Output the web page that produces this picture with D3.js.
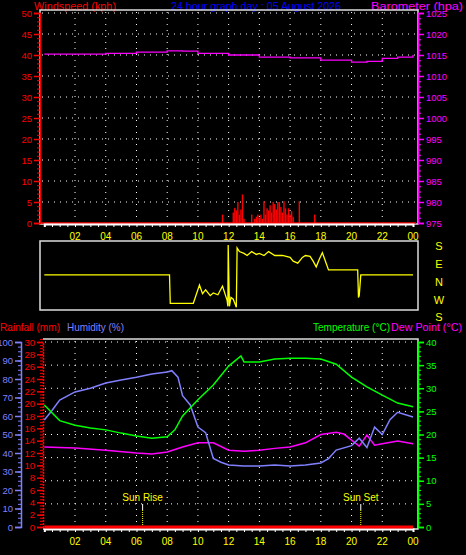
<!DOCTYPE html>
<html><head><meta charset="utf-8">
<script src="https://cdn.jsdelivr.net/npm/d3@7"></script>
<style>body{margin:0;background:#000}svg{display:block}text{font-family:"Liberation Sans",Arial,sans-serif}</style>
</head><body><svg id="c" width="466" height="555"></svg>
<script>
const title = "24 hour graph day : 05 August 2026";
const hourTicks = [2,4,6,8,10,12,14,16,18,20,22,24];
const hourLabels = ["02","04","06","08","10","12","14","16","18","20","22","00"];
const dirLabels = ["S","E","N","W","S"];

const baroHours = [0,2,4,6,8,9,10,12,14,16,18,20,21,22,23,24];
const baroVals  = [1015.2,1015.2,1015.4,1015.7,1016,1015.9,1015.4,1015,1014.5,1014.3,1013.8,1013.3,1013.5,1014.2,1014.5,1015];

const windHours = [11.6,12.3,12.4,12.5,12.6,12.7,12.8,12.9,13.0,13.5,13.7,13.8,13.9,14.0,14.1,14.2,14.3,14.4,14.5,14.6,14.7,14.8,14.9,15.0,15.1,15.2,15.3,15.4,15.5,15.6,15.7,15.8,15.9,16.0,16.1,16.2,16.6,17.6];
const windVals  = [2.0,2.5,3.6,3.0,5.0,2.0,3.2,6.8,1.0,2.0,1.0,1.5,2.0,1.2,2.0,1.0,5.2,2.0,3.5,3.0,4.2,2.5,5.0,4.5,3.2,5.0,5.0,3.8,2.5,5.2,3.5,2.0,3.5,2.0,2.8,1.5,5.2,2.0];

const dirHours = [0,8.15,8.2,9.7,10.1,10.3,10.5,10.8,11,11.3,11.6,11.9,11.95,11.97,12.05,12.15,12.3,12.5,12.55,12.7,13,13.2,13.5,13.8,14,14.3,14.6,15,15.5,16,16.2,16.5,16.8,17,17.3,17.5,17.7,17.9,18.1,18.3,18.5,20.4,20.45,20.5,20.6,24];
const dirVals  = [12,12,-148,-148,-45,-94,-72,-105,-90,-100,-51,-131,-165,180,-165,-115,-125,-170,163,143,133,121,143,127,133,121,143,121,121,110,89,78,110,121,116,89,57,100,137,89,40,40,-115,-105,12,12];

const tHours = [0,1,2,3,4,5,6,7,8,8.5,9,10,11,12,12.8,13,14,15,16,17,18,19,20,21,22,23,24];
const tempVals = [26.4,23,22,21.4,21,20.3,19.7,19.2,19.5,21,24,27.5,30.7,34.8,37,35.7,35.7,36.3,36.5,36.5,36.3,35.2,32.4,30.3,28.5,26.8,26];
const humHours = [0,0.5,1,2,3,4,5,6,7,8,8.3,8.7,9,9.5,10,10.5,11,11.5,12,13,14,15,16,17,18,18.5,19,20,20.5,21,21.5,22,22.5,23,24];
const humVals  = [57.8,63,68.6,73,75,77.8,79.5,81,82.7,83.8,84.5,81,71,66,54,51,37,35,33.5,33,33,33.5,33,33.5,34.6,37,41.6,44,48,43,54,50,58,62,59.5];
const dewHours = [0,2,4,6,7,8,9,10,11,12,13,14,15,16,17,18,19,19.5,20,20.5,21,21.5,22,23,24];
const dewVals  = [17.3,17.1,16.6,16,15.8,16.2,17.3,18.2,18.2,16.6,16.4,16.6,17,17.3,18.2,20,20.5,20.1,18.8,17.5,19.9,17.7,18,18.6,18];
const rainHours = [0,24];
const rainVals = [0,0];
const sunRise = 6.4, sunSet = 20.6;

const svg = d3.select("#c");
const x = d3.scaleLinear().domain([0,24]).range([44.3,413]);

function txt(s,xx,yy,col,anchor,size,len){const t=svg.append("text").attr("x",xx).attr("y",yy).attr("fill",col).attr("font-size",size||11).attr("text-anchor",anchor||"start").text(s); if(len) t.attr("textLength",len).attr("lengthAdjust","spacingAndGlyphs"); return t;}
function dotsH(y,x1,x2){svg.append("line").attr("x1",x1).attr("x2",x2).attr("y1",y).attr("y2",y).attr("stroke","#fff").attr("stroke-dasharray","1,5");}
function dotsV(xx,y1,y2){svg.append("line").attr("x1",xx).attr("x2",xx).attr("y1",y1).attr("y2",y2).attr("stroke","#fff").attr("stroke-dasharray","1,5");}
function xAxis(y){
  const g = svg.append("g").attr("transform",`translate(0,${y})`).call(d3.axisBottom(x).tickValues(d3.range(0,24.01,0.5)).tickSize(3).tickFormat(""));
  g.selectAll("path,line").attr("stroke","#fff");
  g.select("path").attr("stroke-width",2);
  hourTicks.forEach((h,i)=>txt(hourLabels[i],x(h),y+16,"#ffff00","middle",10));
}
function vAxis(scale,xx,orient,col,ticks,minor,dashed){
  const maker = orient==="left"?d3.axisLeft:d3.axisRight;
  const gm = svg.append("g").attr("transform",`translate(${xx},0)`).call(maker(scale).tickValues(minor).tickSize(3).tickFormat(""));
  gm.selectAll("path,line").attr("stroke",col);
  const g = svg.append("g").attr("transform",`translate(${xx},0)`).call(maker(scale).tickValues(ticks).tickSize(6).tickPadding(2).tickFormat(d3.format("d")));
  g.selectAll("path,line").attr("stroke",col).attr("stroke-width",1.5);
  if(dashed){g.select("path").attr("stroke-dasharray","2,1");gm.select("path").attr("stroke-dasharray","2,1");}
  g.selectAll("text").attr("fill",col).attr("font-size",9.5).attr("font-family","Liberation Sans, Arial");
}

// header
txt("Windspeed (kph)",34,10,"#ff0000","start",11,82);
txt(title,171,10,"#0000ff","start",11,170);
txt("Barometer (hpa)",371,10,"#ff00ff","start",11,92);

// top panel
const yW = d3.scaleLinear().domain([0,50]).range([223,13]);
const yB = d3.scaleLinear().domain([975,1025]).range([223,13]);
d3.range(5,51,5).forEach(v=>dotsH(yW(v),42,416));
hourTicks.slice(0,11).forEach(h=>dotsV(x(h),12,222));
svg.append("rect").attr("x",40).attr("y",10).attr("width",378).attr("height",214).attr("fill","none").attr("stroke","#ddd").attr("stroke-width",1.5);
svg.append("g").selectAll("rect").data(windHours).join("rect")
  .attr("x",d=>x(d)-0.7).attr("width",1.4)
  .attr("y",(d,i)=>yW(windVals[i])).attr("height",(d,i)=>yW(0)-yW(windVals[i])).attr("fill","#ff0000");
svg.append("line").attr("x1",x(0)-3).attr("x2",x(24)+3).attr("y1",yW(0)).attr("y2",yW(0)).attr("stroke","#ff0000").attr("stroke-width",1.5);
svg.append("path").datum(baroHours).attr("fill","none").attr("stroke","#ff00ff").attr("stroke-width",1.3)
  .attr("d",d3.line().x(d=>x(d)).y((d,i)=>yB(baroVals[i])).curve(d3.curveStepAfter));
vAxis(yW,40,"left","#ff0000",d3.range(0,51,5),d3.range(0,51,1));
vAxis(yB,418,"right","#ff00ff",d3.range(975,1026,5),d3.range(975,1026,1.25));
xAxis(224);

// wind direction panel
const yD = d3.scaleLinear().domain([-180,180]).range([309,245]);
svg.append("rect").attr("x",40).attr("y",241).attr("width",378).attr("height",69).attr("fill","none").attr("stroke","#ddd").attr("stroke-width",1.5);
svg.append("path").datum(dirHours).attr("fill","none").attr("stroke","#ffff00").attr("stroke-width",1.3)
  .attr("d",d3.line().x(d=>x(d)).y((d,i)=>yD(dirVals[i])));
dirLabels.forEach((l,i)=>txt(l,439,[250,268,286,304,321][i],"#ffff00","middle",11));

// bottom legends
txt("Rainfall (mm)",0,331,"#ff0000","start",11,60);
txt("Humidity (%)",67,331,"#8080ff","start",11,57);
txt("Temperature (°C)",313,331,"#00ff00","start",11,77);
txt("Dew Point (°C)",391,331,"#ff00ff","start",11,71);

// bottom panel
const yH = d3.scaleLinear().domain([0,100]).range([527,342]);
const yR = d3.scaleLinear().domain([0,30]).range([527,342]);
const yT = d3.scaleLinear().domain([0,40]).range([527,342]);
d3.range(5,41,5).forEach(v=>dotsH(yT(v),45,416));
hourTicks.slice(0,11).forEach(h=>dotsV(x(h),341,526));
svg.append("path").attr("d","M43,339H418V529H43").attr("fill","none").attr("stroke","#ddd").attr("stroke-width",1.5);
vAxis(yH,21,"left","#8080ff",d3.range(0,101,10),d3.range(0,101,2.5));
vAxis(yR,43,"left","#ff0000",d3.range(0,31,2),d3.range(0,31,0.5),true);
vAxis(yT,418,"right","#00ff00",d3.range(0,41,5),d3.range(0,41,1));
xAxis(529);

[[sunRise,"Sun Rise"],[sunSet,"Sun Set"]].forEach(([h,l])=>{
  svg.append("line").attr("x1",x(h)).attr("x2",x(h)).attr("y1",504).attr("y2",510).attr("stroke","#fff");
  svg.append("line").attr("x1",x(h)).attr("x2",x(h)).attr("y1",510).attr("y2",526).attr("stroke","#ffff00").attr("stroke-dasharray","1,1");
  txt(l,x(h),501,"#ffff00","middle",10);
});

const line = (hs,vs,sc)=>d3.line().x(d=>x(d)).y((d,i)=>sc(vs[i]))(hs);
svg.append("path").attr("d",line(rainHours,rainVals,yR)).attr("stroke","#ff0000").attr("stroke-width",3).attr("fill","none");
svg.append("path").attr("d",line(dewHours,dewVals,yT)).attr("stroke","#ff00ff").attr("stroke-width",1.5).attr("fill","none");
svg.append("path").attr("d",line(humHours,humVals,yH)).attr("stroke","#8080ff").attr("stroke-width",1.5).attr("fill","none");
svg.append("path").attr("d",line(tHours,tempVals,yT)).attr("stroke","#00ff00").attr("stroke-width",1.5).attr("fill","none");
</script></body></html>
